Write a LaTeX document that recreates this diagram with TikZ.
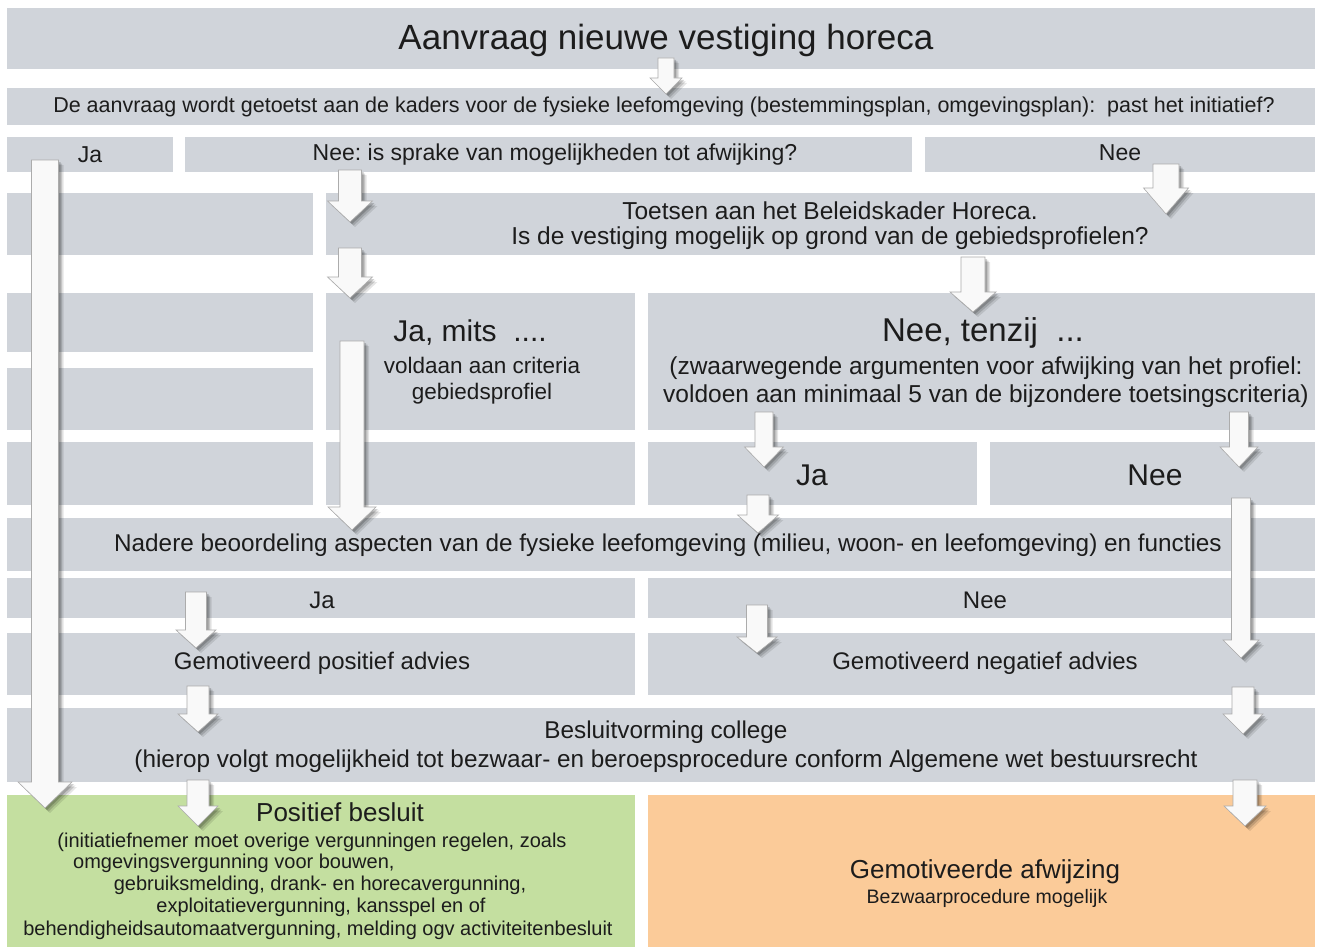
\documentclass[tikz,border=0pt]{standalone}
\usepackage{fontspec}
\setmainfont{Liberation Sans}
\definecolor{boxgray}{RGB}{208,212,218}
\definecolor{boxgreen}{RGB}{196,223,160}
\definecolor{boxorange}{RGB}{251,203,153}
\definecolor{txt}{RGB}{28,28,28}
\newcommand\fsz[2]{\fontsize{#1pt}{#2pt}\selectfont}
\tikzset{
  box/.style={fill=boxgray, draw=none, inner sep=0pt, outer sep=0pt, anchor=north west},
  lbl/.style={text=txt, inner sep=0pt, align=center},
  arrbody/.style={fill=white!95!gray, draw=gray!65, line width=0.6pt, line join=miter},
}
\newcommand\boxnode[6]{\node[box, fill=#6, minimum width={(#4)-(#2)}, minimum height={(#5)-(#3)}] (#1) at (#2,#3) {};}
% x, ytop, ytip, shaft width, head width, head length
\newcommand\barrow[6]{%
  \pgfmathsetmacro\axl{#1-#4/2}\pgfmathsetmacro\axr{#1+#4/2}%
  \pgfmathsetmacro\ahl{#1-#5/2}\pgfmathsetmacro\ahr{#1+#5/2}%
  \pgfmathsetmacro\ahy{#3-#6}%
  \foreach \o/\op in {5/0.10,3.5/0.14,2/0.18}{%
    \path[fill=black, opacity=\op, shift={(\o,\o)}] (\axl,#2) -- (\axr,#2) -- (\axr,\ahy) -- (\ahr,\ahy) -- (#1,#3) -- (\ahl,\ahy) -- (\axl,\ahy) -- cycle;}
  \path[arrbody] (\axl,#2) -- (\axr,#2) -- (\axr,\ahy) -- (\ahr,\ahy) -- (#1,#3) -- (\ahl,\ahy) -- (\axl,\ahy) -- cycle;
}
\begin{document}
\frenchspacing
\begin{tikzpicture}[x=1pt,y=-1pt]
\useasboundingbox (0,0) rectangle (1322,947);
\fill[white] (0,0) rectangle (1322,947);
% boxes
\boxnode{b1}{7}{8}{1315}{69}{boxgray}
\boxnode{b2}{7}{88}{1315}{125}{boxgray}
\boxnode{b3a}{7}{137}{173}{172}{boxgray}
\boxnode{b3b}{185}{137}{912}{172}{boxgray}
\boxnode{b3c}{925}{137}{1315}{172}{boxgray}
\boxnode{b4a}{7}{193}{313}{255}{boxgray}
\boxnode{b4b}{326}{193}{1315}{255}{boxgray}
\boxnode{b5a}{7}{293}{313}{352}{boxgray}
\boxnode{b5b}{7}{368}{313}{430}{boxgray}
\boxnode{b5c}{326}{293}{635}{430}{boxgray}
\boxnode{b5d}{648}{293}{1315}{430}{boxgray}
\boxnode{b6a}{7}{442}{313}{505}{boxgray}
\boxnode{b6b}{326}{442}{635}{505}{boxgray}
\boxnode{b6c}{648}{442}{977}{505}{boxgray}
\boxnode{b6d}{990}{442}{1315}{505}{boxgray}
\boxnode{b7}{7}{518}{1315}{571}{boxgray}
\boxnode{b8a}{7}{578}{635}{618}{boxgray}
\boxnode{b8b}{648}{578}{1315}{618}{boxgray}
\boxnode{b9a}{7}{633}{635}{695}{boxgray}
\boxnode{b9b}{648}{633}{1315}{695}{boxgray}
\boxnode{b10}{7}{708}{1315}{782}{boxgray}
\boxnode{b11a}{7}{795}{635}{947}{boxgreen}
\boxnode{b11b}{648}{795}{1315}{947}{boxorange}
% texts
\node[lbl, font=\fsz{35}{42}] (t1) at (666,40) {Aanvraag nieuwe vestiging horeca};
\node[lbl, font=\fsz{21.5}{25}] (t2) at (664,107) {De aanvraag wordt getoetst aan de kaders voor de fysieke leefomgeving (bestemmingsplan, omgevingsplan):\ \ past het initiatief?};
\node[lbl, font=\fsz{23}{26}] (t3a) at (90,155) {Ja};
\node[lbl, font=\fsz{23}{26}] (t3b) at (555,155) {Nee: is sprake van mogelijkheden tot afwijking?};
\node[lbl, font=\fsz{23}{26}] (t3c) at (1120,153) {Nee};
\node[lbl, font=\fsz{24.5}{25}] (t4) at (830,226) {Toetsen aan het Beleidskader Horeca.\\Is de vestiging mogelijk op grond van de gebiedsprofielen?};
\node[lbl, font=\fsz{30}{34}] (t5a) at (470,333) {Ja, mits\ \ ....};
\node[lbl, font=\fsz{22.5}{26}] (t5b) at (482,381) {voldaan aan criteria\\gebiedsprofiel};
\node[lbl, font=\fsz{33}{36}] (t5c) at (983,333) {Nee, tenzij\ \ ...};
\node[lbl, font=\fsz{24.5}{27.5}] (t5d) at (986,382) {(zwaarwegende argumenten voor afwijking van het profiel:\\voldoen aan minimaal 5 van de bijzondere toetsingscriteria)};
\node[lbl, font=\fsz{30}{34}] (t6a) at (812,475) {Ja};
\node[lbl, font=\fsz{30}{34}] (t6b) at (1155,475) {Nee};
\node[lbl, font=\fsz{24.3}{28}] (t7) at (668,545) {Nadere beoordeling aspecten van de fysieke leefomgeving (milieu, woon- en leefomgeving) en functies};
\node[lbl, font=\fsz{24}{28}] (t8a) at (322,600) {Ja};
\node[lbl, font=\fsz{24}{28}] (t8b) at (985,600) {Nee};
\node[lbl, font=\fsz{24}{28}] (t9a) at (322,663) {Gemotiveerd positief advies};
\node[lbl, font=\fsz{24}{28}] (t9b) at (985,663) {Gemotiveerd negatief advies};
\node[lbl, font=\fsz{24.3}{29}] (t10) at (666,747) {Besluitvorming college\\(hierop volgt mogelijkheid tot bezwaar- en beroepsprocedure conform Algemene wet bestuursrecht};
\node[lbl, font=\fsz{26}{30}] (t11a) at (340,812) {Positief besluit};
\node[lbl, font=\fsz{20}{22}] (g1) at (312,842) {(initiatiefnemer moet overige vergunningen regelen, zoals};
\node[lbl, font=\fsz{20}{22}, anchor=west] (g2) at (73,863) {omgevingsvergunning voor bouwen,};
\node[lbl, font=\fsz{20}{22}] (g3) at (320,885) {gebruiksmelding, drank- en horecavergunning,};
\node[lbl, font=\fsz{20}{22}] (g4) at (321,907) {exploitatievergunning, kansspel en of};
\node[lbl, font=\fsz{20}{22}] (g5) at (318,930) {behendigheidsautomaatvergunning, melding ogv activiteitenbesluit};
\node[lbl, font=\fsz{26}{30}] (o1) at (985,872) {Gemotiveerde afwijzing};
\node[lbl, font=\fsz{19.5}{22}] (o2) at (987,898) {Bezwaarprocedure mogelijk};
% block arrows
\barrow{666}{58}{94}{16}{32}{16}
\barrow{45}{160}{808}{27}{54}{26}
\barrow{350}{170}{222}{23}{45}{21}
\barrow{350}{248}{298}{23}{45}{21}
\barrow{1166}{164}{214}{26}{45}{26}
\barrow{973}{257}{312}{24}{46}{20}
\barrow{352}{341}{530}{24}{48}{23}
\barrow{764}{412}{467}{18}{39}{20}
\barrow{1239}{412}{467}{19}{38}{20}
\barrow{758}{495}{533}{22}{41}{18}
\barrow{1241}{498}{658}{19}{36}{18}
\barrow{196}{592}{648}{21}{40}{18}
\barrow{757}{605}{653}{21}{40}{16}
\barrow{198}{686}{732}{22}{40}{18}
\barrow{1243}{687}{734}{22}{40}{20}
\barrow{198}{780}{826}{22}{40}{20}
\barrow{1245}{780}{826}{24}{42}{20}
\end{tikzpicture}
\end{document}
